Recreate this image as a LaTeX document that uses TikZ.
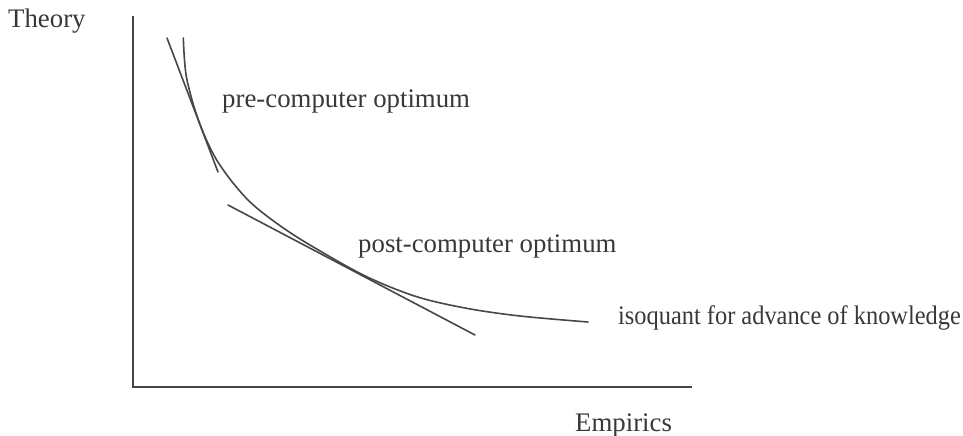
\documentclass[tikz,border=0pt]{standalone}
\usepackage{fontspec}
\setmainfont{Liberation Serif}
\begin{document}
\begin{tikzpicture}[x=1pt,y=-1pt,
  axis/.style={line width=1.7pt,draw=black!72},
  curveline/.style={line width=1.6pt,draw=black!72,line cap=round},
  lbl/.style={anchor=base west,inner sep=0pt,text=black!78,font=\fontsize{26.8}{30}\selectfont}]
\useasboundingbox (0,0) rectangle (963,436);
% axes
\coordinate (ytop) at (133,16);
\coordinate (orig) at (133,387);
\coordinate (xend) at (692,387);
\draw[axis] (ytop) -- (orig) -- (xend);
% isoquant
\draw[curveline] plot[smooth,tension=0.55] coordinates {
 (183.3,38) (184.5,60) (187,80) (195,110) (205,136.7) (216.7,160)
 (233.3,183.3) (253.3,205) (283.3,228) (316.7,249) (366.7,276.7)
 (416.7,296.7) (466.7,308.3) (520,316) (588,322)};
% tangents
\coordinate (t1a) at (167,38);
\coordinate (t1b) at (218,172);
\coordinate (t2a) at (228,205);
\coordinate (t2b) at (475,335);
\draw[curveline] (t1a) -- (t1b);
\draw[curveline] (t2a) -- (t2b);
% labels
\node[lbl] (theory) at (8,28) {Theory};
\node[lbl] (pre) at (222,107) {pre-computer optimum};
\node[lbl] (post) at (358,252) {post-computer optimum};
\node[lbl] (iso) at (618,324) {\scalebox{0.91}[1]{isoquant for advance of knowledge}};
\node[lbl] (emp) at (575,431) {Empirics};
\end{tikzpicture}
\end{document}
